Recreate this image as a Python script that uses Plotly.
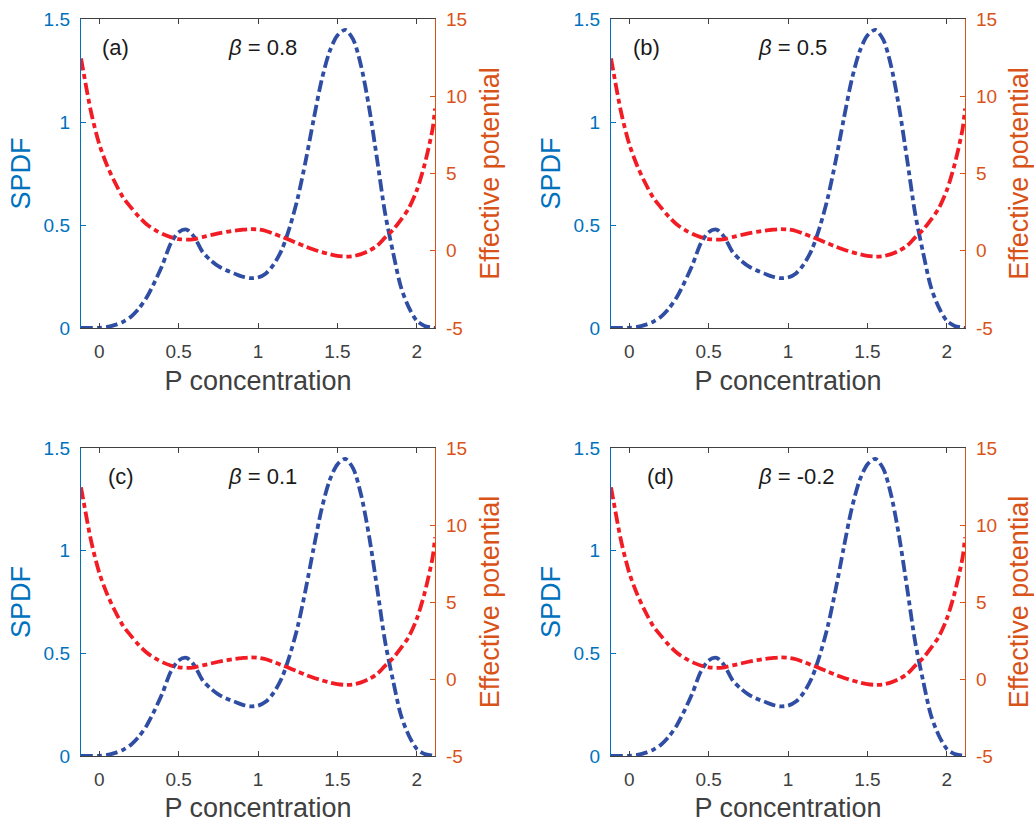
import plotly.graph_objects as go

# ---- data (all four panels show the same curves) ----
x_conc = [-0.115, -0.1, -0.05, 0.0, 0.05, 0.1, 0.15, 0.2, 0.25, 0.3, 0.35, 0.4, 0.45,
          0.5, 0.55, 0.6, 0.65, 0.7, 0.75, 0.8, 0.85, 0.9, 0.95, 1.0, 1.05, 1.1,
          1.15, 1.2, 1.25, 1.3, 1.35, 1.4, 1.45, 1.5, 1.55, 1.6, 1.65, 1.7, 1.75,
          1.8, 1.85, 1.9, 1.95, 2.0, 2.05, 2.1, 2.115]

spdf = [0.0, 0.0, 0.0, 0.001, 0.005, 0.015, 0.03, 0.055, 0.095, 0.15, 0.225, 0.31, 0.41,
        0.465, 0.478, 0.44, 0.37, 0.33, 0.30, 0.28, 0.265, 0.25, 0.242, 0.245, 0.265, 0.31,
        0.38, 0.49, 0.63, 0.81, 1.01, 1.20, 1.34, 1.42, 1.447, 1.40, 1.27, 1.07, 0.82,
        0.56, 0.37, 0.20, 0.10, 0.035, 0.01, 0.002, 0.0]

potential = [12.45, 11.6, 8.9, 6.9, 5.5, 4.4, 3.45, 2.8, 2.2, 1.7, 1.35, 1.08, 0.88,
             0.76, 0.72, 0.76, 0.88, 1.0, 1.12, 1.22, 1.3, 1.36, 1.4, 1.38, 1.28, 1.1,
             0.9, 0.7, 0.48, 0.27, 0.08, -0.08, -0.22, -0.33, -0.38, -0.35, -0.22, 0.0, 0.32,
             0.85, 1.35, 2.0, 2.75, 3.9, 5.6, 7.9, 9.2]

panel_labels = ["(a)", "(b)", "(c)", "(d)"]
beta_values = ["0.8", "0.5", "0.1", "-0.2"]
label_x = [0.005, 0.01, 0.04, 0.1]

x_ticks = [0, 0.5, 1, 1.5, 2]
x_ticktext = ["0", "0.5", "1", "1.5", "2"]
y1_ticks = [0, 0.5, 1, 1.5]
y1_ticktext = ["0", "0.5", "1", "1.5"]
y2_ticks = [-5, 0, 5, 10, 15]
y2_ticktext = ["-5", "0", "5", "10", "15"]

# ---- styling ----
W, H = 1034, 823
OFF = 0  # body margin removed via post_script below
BLUE_AX = "#0072BD"
ORANGE_AX = "#D95319"
BLUE_LINE = "#2F4DA3"
RED_LINE = "#F21D24"
GRAY = "#404040"
FONT = "Liberation Sans, Arial, Helvetica, sans-serif"
DASH = "12px,4px,5px,4px"

# panel pixel boxes in the screenshot (left, right, top, bottom)
boxes = [(81, 435, 19, 328), (611, 965, 19, 328), (81, 435, 448, 756), (611, 965, 448, 756)]

fig = go.Figure()
layout = dict(
    width=W, height=H,
    margin=dict(l=0, r=0, t=0, b=0, autoexpand=False),
    paper_bgcolor="white", plot_bgcolor="white",
    showlegend=False,
    font=dict(family=FONT, color=GRAY),
)
annotations = []

for i, (l, r, t, b) in enumerate(boxes):
    xid = "" if i == 0 else str(i + 1)
    y1n = 2 * i + 1
    y2n = 2 * i + 2
    y1id = "" if y1n == 1 else str(y1n)
    y2id = str(y2n)

    fig.add_trace(go.Scatter(
        x=x_conc, y=potential, mode="lines",
        line=dict(color=RED_LINE, width=3.8, dash=DASH, shape="spline", smoothing=0.8),
        xaxis="x" + xid, yaxis="y" + y2id, hoverinfo="skip"))
    fig.add_trace(go.Scatter(
        x=x_conc, y=spdf, mode="lines",
        line=dict(color=BLUE_LINE, width=3.8, dash=DASH, shape="spline", smoothing=0.8),
        xaxis="x" + xid, yaxis="y" + y1id, hoverinfo="skip"))

    xdom = [(l - OFF) / W, (r - OFF) / W]
    ydom = [1 - (b - OFF) / H, 1 - (t - OFF) / H]

    layout["xaxis" + xid] = dict(
        domain=xdom, anchor="y" + y1id, range=[-0.115, 2.115], automargin=False,
        tickvals=x_ticks, ticktext=x_ticktext,
        ticks="inside", ticklen=5, tickcolor=GRAY, tickwidth=1,
        showline=True, linecolor=GRAY, linewidth=1.2, mirror="ticks",
        showgrid=False, zeroline=False,
        tickfont=dict(size=19, color=GRAY, family=FONT),
        ticklabelstandoff=6,
        title=dict(text="P concentration", font=dict(size=27, color=GRAY, family=FONT), standoff=10),
    )
    layout["yaxis" + y1id] = dict(
        domain=ydom, anchor="x" + xid, range=[0, 1.5], automargin=False,
        tickvals=y1_ticks, ticktext=y1_ticktext,
        ticks="inside", ticklen=5, tickcolor=BLUE_AX, tickwidth=1,
        showline=True, linecolor=BLUE_AX, linewidth=1.2,
        showgrid=False, zeroline=False,
        tickfont=dict(size=19, color=BLUE_AX, family=FONT),
        ticklabelstandoff=6,
        title=dict(text="SPDF", font=dict(size=27, color=BLUE_AX, family=FONT), standoff=5),
    )
    layout["yaxis" + y2id] = dict(
        overlaying="y" + y1id, side="right", anchor="x" + xid, range=[-5, 15], automargin=False,
        tickvals=y2_ticks, ticktext=y2_ticktext,
        ticks="inside", ticklen=5, tickcolor=ORANGE_AX, tickwidth=1,
        showline=True, linecolor=ORANGE_AX, linewidth=1.2,
        showgrid=False, zeroline=False,
        tickfont=dict(size=19, color=ORANGE_AX, family=FONT),
        ticklabelstandoff=6,
        title=dict(text="Effective potential", font=dict(size=27, color=ORANGE_AX, family=FONT), standoff=14),
    )

    annotations.append(dict(
        x=label_x[i], y=1.36, xref="x" + xid, yref="y" + y1id,
        text=panel_labels[i], showarrow=False, xanchor="left", yanchor="middle",
        font=dict(size=22, color="#1a1a1a", family=FONT)))
    annotations.append(dict(
        x=0.80, y=1.36, xref="x" + xid, yref="y" + y1id,
        text="<i>β</i> = " + beta_values[i], showarrow=False, xanchor="left", yanchor="middle",
        font=dict(size=22, color="#1a1a1a", family=FONT)))

layout["annotations"] = annotations
fig.update_layout(**layout)
fig.write_html(
    "out.html",
    config={"displayModeBar": False, "staticPlot": True},
    post_script="document.documentElement.style.margin='0';document.body.style.margin='0';"
                "document.body.style.overflow='hidden';",
)
